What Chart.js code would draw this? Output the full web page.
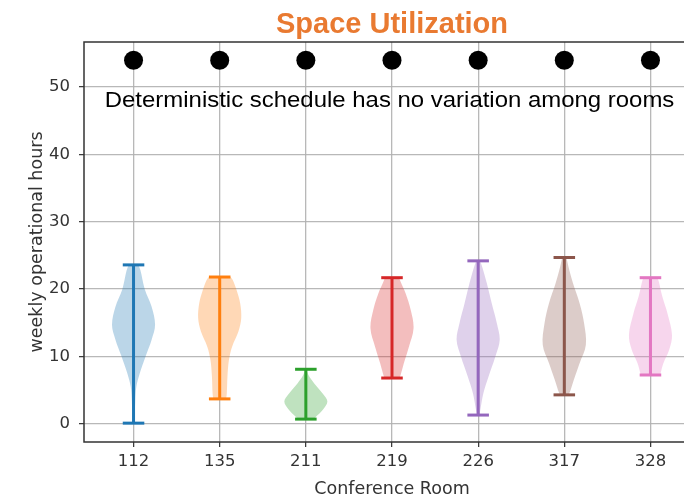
<!DOCTYPE html>
<html>
<head>
<meta charset="utf-8">
<script src="https://cdn.jsdelivr.net/npm/chart.js@4.4.1/dist/chart.umd.min.js"></script>
<style>
  html, body { margin: 0; padding: 0; background: #fff; overflow: hidden; }
  #wrap { width: 720px; height: 500px; position: relative; }
</style>
</head>
<body>
<div id="wrap"><canvas id="c"></canvas></div>
<script>
// ---- data ----
const rooms = ['112', '135', '211', '219', '226', '317', '328'];
const deterministicHours = [54, 54, 54, 54, 54, 54, 54];
const minHours = [0.1, 3.7, 0.7, 6.8, 1.3, 4.3, 7.25];
const maxHours = [23.6, 21.8, 8.1, 21.7, 24.2, 24.7, 21.7];
// density profiles: [hours, relative density (max = 1)]
const density112 = [[0.1,0.05],[1.0,0.06],[3.5,0.08],[5.5,0.13],[7.5,0.29],[10.1,0.57],[12.5,0.84],[14.7,1.0],[17.4,0.84],[20.0,0.52],[22.8,0.32],[23.6,0.22]];
const density135 = [[3.7,0.3],[4.5,0.33],[7.0,0.36],[9.5,0.43],[11.5,0.58],[13.7,0.87],[15.7,1.0],[17.9,0.95],[19.9,0.78],[21.4,0.6],[21.8,0.5]];
const density211 = [[0.7,0.35],[1.05,0.47],[2.05,0.78],[3.3,1.0],[4.5,0.78],[6.0,0.39],[7.25,0.12],[8.1,0.04]];
const density219 = [[6.8,0.35],[7.25,0.4],[9.0,0.55],[11.5,0.79],[14.2,1.0],[16.9,0.87],[19.4,0.63],[21.1,0.4],[21.7,0.33]];
const density226 = [[1.3,0.06],[2.05,0.1],[4.5,0.24],[7.0,0.48],[10.0,0.8],[12.45,1.0],[14.9,0.87],[17.9,0.63],[20.9,0.4],[23.6,0.16],[24.2,0.08]];
const density317 = [[4.3,0.2],[5.0,0.29],[6.5,0.44],[9.0,0.71],[11.7,1.0],[14.9,0.92],[17.9,0.71],[20.9,0.4],[23.35,0.19],[24.7,0.1]];
const density328 = [[7.25,0.45],[7.5,0.47],[9.0,0.6],[11.0,0.87],[13.2,1.0],[16.4,0.79],[18.9,0.55],[21.1,0.39],[21.7,0.33]];
const densities = [density112, density135, density211, density219, density226, density317, density328];
const yTickStep = 10;
const noteText = 'Deterministic schedule has no variation among rooms';

// ---- styling ----
const colors = ['31,119,180', '255,127,14', '44,160,44', '214,39,40', '148,103,189', '140,86,75', '227,119,194'];
const halfWidth = 0.25;   // violin max half width (x units)
const capHalf = 0.125;
const tickFont = { family: 'DejaVu Sans', size: 16.5 };
const labelFont = { family: 'DejaVu Sans', size: 17.5 };
const textColor = '#333';
const gridColor = 'rgba(176,176,176,0.9)';
const note = { x0: 0.666, x1: 7.277, y: 47.1, font: '22.5px "Liberation Sans", Arial, sans-serif' };

const datasets = [];
// deterministic points (on top)
datasets.push({
  type: 'line', label: 'deterministic', order: 0, showLine: false,
  data: deterministicHours.map((v, i) => ({ x: i + 1, y: v })),
  pointRadius: 9.5, pointHoverRadius: 9.5, pointBackgroundColor: '#000', pointBorderWidth: 0
});
// whiskers
rooms.forEach((r, i) => {
  const pos = i + 1, c = 'rgb(' + colors[i] + ')';
  const common = { type: 'line', order: 1, borderColor: c, borderWidth: 3, pointRadius: 0, borderCapStyle: 'butt', fill: false, tension: 0 };
  datasets.push(Object.assign({ label: r + ' bar', data: [{ x: pos, y: minHours[i] }, { x: pos, y: maxHours[i] }] }, common));
  datasets.push(Object.assign({ label: r + ' min', data: [{ x: pos - capHalf, y: minHours[i] }, { x: pos + capHalf, y: minHours[i] }] }, common));
  datasets.push(Object.assign({ label: r + ' max', data: [{ x: pos - capHalf, y: maxHours[i] }, { x: pos + capHalf, y: maxHours[i] }] }, common));
});
// violin bodies
rooms.forEach((r, i) => {
  const pos = i + 1;
  const prof = densities[i];
  const body = { type: 'line', order: 2, indexAxis: 'y', borderWidth: 0, borderColor: 'rgba(0,0,0,0)', pointRadius: 0, tension: 0.35,
    backgroundColor: 'rgba(' + colors[i] + ',0.3)' };
  datasets.push(Object.assign({ label: r + ' left', fill: '+1', data: prof.map(([v, w]) => ({ x: pos - halfWidth * w, y: v })) }, body));
  datasets.push(Object.assign({ label: r + ' right', fill: false, data: prof.map(([v, w]) => ({ x: pos + halfWidth * w, y: v })) }, body));
});

const framePlugin = {
  id: 'frame',
  afterDatasetsDraw(chart) {
    const { ctx, chartArea: a } = chart;
    ctx.save();
    ctx.strokeStyle = '#333';
    ctx.lineWidth = 1.5;
    ctx.beginPath();
    ctx.moveTo(a.right, a.top); ctx.lineTo(a.left, a.top); ctx.lineTo(a.left, a.bottom); ctx.lineTo(a.right, a.bottom);
    ctx.stroke();
    // annotation text
    const xs = chart.scales.x, ys = chart.scales.y;
    const px0 = xs.getPixelForValue(note.x0), px1 = xs.getPixelForValue(note.x1);
    const py = ys.getPixelForValue(note.y);
    ctx.font = note.font;
    ctx.fillStyle = '#000';
    ctx.textBaseline = 'alphabetic';
    ctx.textAlign = 'left';
    const w = ctx.measureText(noteText).width;
    ctx.translate(px0, py);
    ctx.scale((px1 - px0) / w, 1);
    ctx.fillText(noteText, 0, 0);
    ctx.restore();
  }
};

new Chart(document.getElementById('c'), {
  type: 'line',
  data: { datasets },
  options: {
    responsive: true, maintainAspectRatio: false, animation: false, devicePixelRatio: 1,
    layout: { padding: { left: 0, right: 20, top: 0, bottom: 0 } },
    plugins: {
      legend: { display: false },
      tooltip: { enabled: false },
      title: {
        display: true, text: 'Space Utilization', color: '#E97A31', fullSize: false,
        font: { family: '"Liberation Sans", Arial, sans-serif', size: 29, weight: 'bold', lineHeight: 1 },
        padding: { top: 10, bottom: 3 }
      }
    },
    scales: {
      x: {
        type: 'linear', min: 0.425, max: 7.575,
        afterFit: s => { s.height = 58; },
        border: { display: false },
        grid: { color: gridColor, lineWidth: 1.3, drawTicks: true, tickLength: 5, tickColor: '#333', tickWidth: 1.2 },
        ticks: { stepSize: 1, includeBounds: false, autoSkip: false, maxRotation: 0, padding: 5, color: textColor, font: tickFont,
          callback: v => rooms[Math.round(v) - 1] },
        title: { display: true, text: 'Conference Room', color: textColor, font: labelFont, padding: { top: 0, bottom: 0 } }
      },
      y: {
        type: 'linear', min: -2.7, max: 56.7,
        afterFit: s => { s.width = 84; },
        border: { display: false },
        grid: { color: gridColor, lineWidth: 1.3, drawTicks: true, tickLength: 5, tickColor: '#333', tickWidth: 1.2 },
        ticks: { stepSize: yTickStep, includeBounds: false, padding: 9, color: textColor, font: tickFont },
        title: { display: true, text: 'weekly operational hours', color: textColor, font: labelFont, padding: { top: 27, bottom: 0 } }
      }
    }
  },
  plugins: [framePlugin]
});
</script>
</body>
</html>
